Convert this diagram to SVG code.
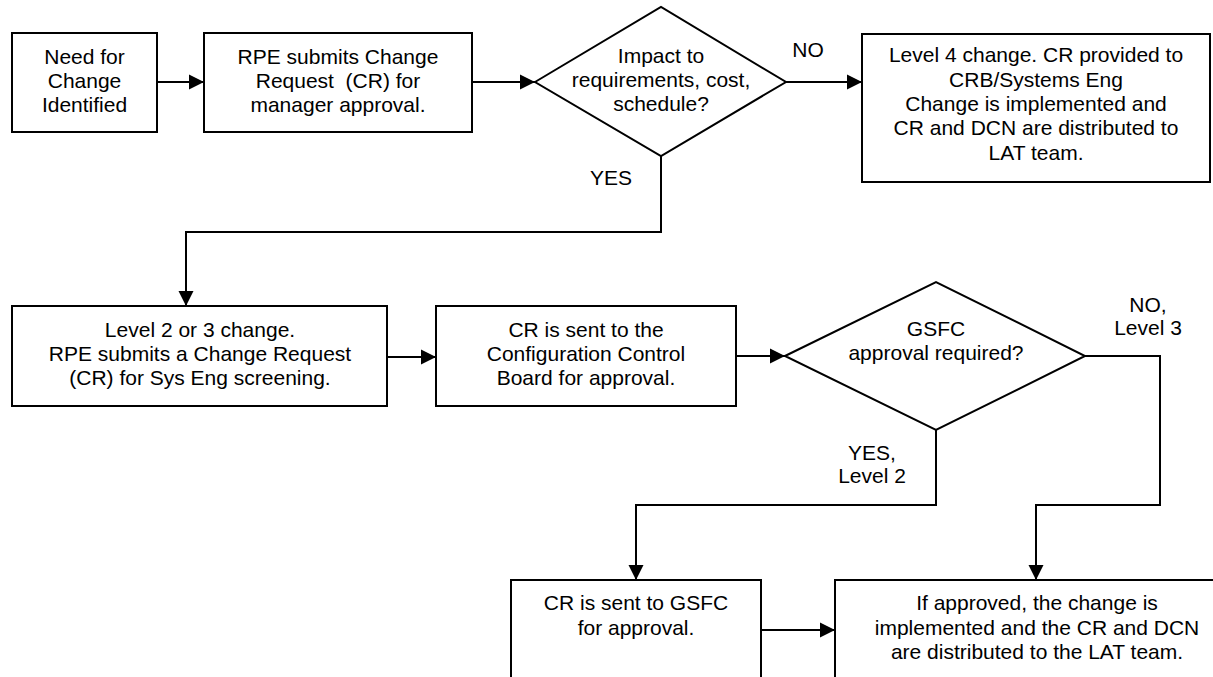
<svg xmlns="http://www.w3.org/2000/svg" width="1213" height="677" viewBox="0 0 1213 677">
<style>
.box{fill:#fff;stroke:#000;stroke-width:2}
.t{font-family:"Liberation Sans",Arial,sans-serif;font-size:21px;fill:#000;text-anchor:middle;white-space:pre}
.c{fill:none;stroke:#000;stroke-width:2}
</style>
<defs>
<marker id="ah" markerUnits="userSpaceOnUse" markerWidth="16" markerHeight="16" viewBox="0 0 16 16" refX="15" refY="8" orient="auto">
<path d="M0,0.5 L15,8 L0,15.5 Z" fill="#000"/>
</marker>
</defs>
<rect width="1213" height="677" fill="#fff"/>
<g id="connectors">
<path class="c" d="M157,82 H204" marker-end="url(#ah)"/>
<path class="c" d="M472,82 H535" marker-end="url(#ah)"/>
<path class="c" d="M786,82 H862" marker-end="url(#ah)"/>
<path class="c" d="M661,156 V232 H186 V306" marker-end="url(#ah)"/>
<path class="c" d="M387,357 H436" marker-end="url(#ah)"/>
<path class="c" d="M736,356 H785" marker-end="url(#ah)"/>
<path class="c" d="M1085,356 H1160 V505 H1036 V580" marker-end="url(#ah)"/>
<path class="c" d="M936,430 V505 H636 V580" marker-end="url(#ah)"/>
<path class="c" d="M761,630 H835" marker-end="url(#ah)"/>
<text class="t" x="808" y="57">NO</text>
<text class="t" x="611" y="185">YES</text>
<text class="t" x="1148" y="312">NO,</text>
<text class="t" x="1148" y="335">Level 3</text>
<text class="t" x="872" y="460">YES,</text>
<text class="t" x="872" y="483">Level 2</text>
</g>
<g id="need">
<rect class="box" x="12" y="33" width="145" height="99"/>
<text class="t" x="84.5" y="64">Need for</text>
<text class="t" x="84.5" y="88">Change</text>
<text class="t" x="84.5" y="112">Identified</text>
</g>
<g id="submit">
<rect class="box" x="204" y="33" width="268" height="99"/>
<text class="t" x="338" y="64">RPE submits Change</text>
<text class="t" x="338" y="88">Request  (CR) for</text>
<text class="t" x="338" y="112">manager approval.</text>
</g>
<g id="impact">
<polygon class="box" points="535,82 661,7 786,82 661,156"/>
<text class="t" x="661" y="63">Impact to</text>
<text class="t" x="661" y="87">requirements, cost,</text>
<text class="t" x="661" y="111">schedule?</text>
</g>
<g id="level4">
<rect class="box" x="862" y="34" width="348" height="148"/>
<text class="t" x="1036" y="62">Level 4 change. CR provided to</text>
<text class="t" x="1036" y="87">CRB/Systems Eng</text>
<text class="t" x="1036" y="111">Change is implemented and</text>
<text class="t" x="1036" y="135">CR and DCN are distributed to</text>
<text class="t" x="1036" y="160">LAT team.</text>
</g>
<g id="level23">
<rect class="box" x="12" y="306" width="375" height="100"/>
<text class="t" x="200" y="337">Level 2 or 3 change.</text>
<text class="t" x="200" y="361">RPE submits a Change Request</text>
<text class="t" x="200" y="385">(CR) for Sys Eng screening.</text>
</g>
<g id="ccb">
<rect class="box" x="436" y="306" width="300" height="100"/>
<text class="t" x="586" y="337">CR is sent to the</text>
<text class="t" x="586" y="361">Configuration Control</text>
<text class="t" x="586" y="385">Board for approval.</text>
</g>
<g id="gsfcq">
<polygon class="box" points="785,356 936,282 1085,356 936,430"/>
<text class="t" x="936" y="336">GSFC</text>
<text class="t" x="936" y="360">approval required?</text>
</g>
<g id="gsfc">
<rect class="box" x="511" y="580" width="250" height="120"/>
<text class="t" x="636" y="610">CR is sent to GSFC</text>
<text class="t" x="636" y="635">for approval.</text>
</g>
<g id="implement">
<rect class="box" x="835" y="580" width="405" height="120"/>
<text class="t" x="1037" y="610">If approved, the change is</text>
<text class="t" x="1037" y="635">implemented and the CR and DCN</text>
<text class="t" x="1037" y="659">are distributed to the LAT team.</text>
</g>
</svg>
